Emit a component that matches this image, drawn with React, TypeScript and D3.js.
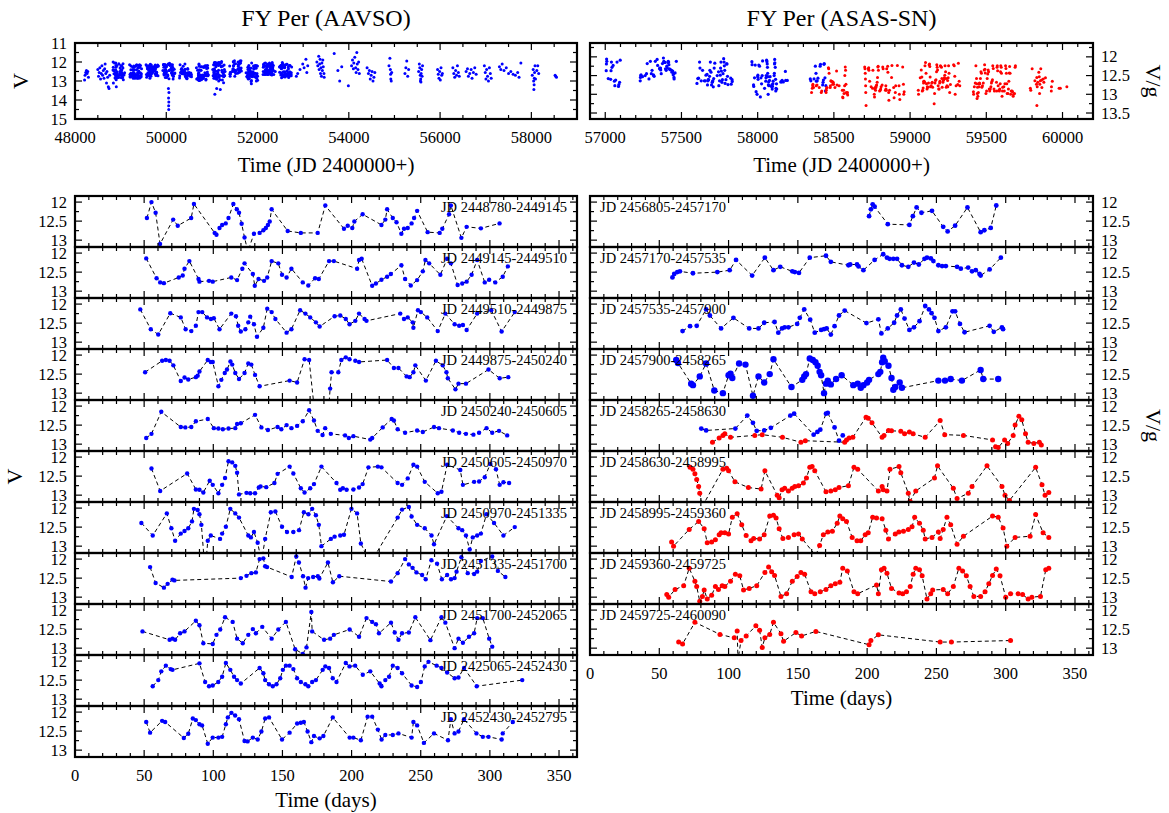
import React from 'react';
import * as d3 from 'd3';

// ---- AAVSO yearly strips: flat [day, mag, day, mag, ...] ----
const aavso1 = [52,12.42, 55.3,12.0, 58.3,12.28, 61.5,13.1, 71,12.46, 74.3,12.62, 84,12.42, 86,12.05, 101,12.81, 102.3,12.86, 104.5,12.68, 106.4,12.6, 109,12.56, 111,12.42, 114.5,12.05, 117,12.19, 118.6,12.28, 120.5,12.57, 122.6,12.93, 125,13.3, 129.4,12.83, 133.5,12.81, 136.2,12.74, 138,12.68, 139.5,12.6, 140.8,12.51, 142.2,12.19, 153.8,12.76, 163.3,12.81, 175.5,12.81, 181,12.09, 194.5,12.7, 197.2,12.62, 200.5,12.68, 202,12.51, 208,12.32, 221.6,12.6, 224.4,12.46, 225.7,12.19, 229.8,12.42, 232.5,12.53, 236,12.83, 237.9,12.7, 240.6,12.68, 243.4,12.56, 245.2,12.42, 247.4,12.23, 255,12.79, 263.7,12.81, 265.6,12.7, 270.5,12.32, 271.8,12.09, 279.4,12.94, 283.2,12.65, 293.5,12.69, 307,12.56];
const aavso2 = [51.5,12.14, 59,12.66, 61.6,12.77, 64.3,12.79, 75,12.64, 77.9,12.59, 79.2,12.41, 82.7,12.21, 89.3,12.68, 90,12.75, 96.9,12.73, 99.6,12.75, 113,12.64, 117.2,12.71, 121,12.41, 122.6,12.27, 128.6,12.55, 130,12.86, 132.7,12.68, 136.7,12.73, 139,12.64, 142.2,12.21, 147,12.27, 149.7,12.57, 153,12.64, 156.5,12.41, 164.7,12.77, 168.7,12.85, 173.6,12.66, 176.3,12.68, 183.7,12.21, 187.2,12.21, 204,12.41, 205.4,12.18, 207.3,12.15, 214.9,12.86, 217.6,12.8, 221.6,12.7, 225.7,12.62, 228.4,12.55, 236,12.32, 238.7,12.68, 242.8,12.85, 247.4,12.71, 251.5,12.48, 253.4,12.18, 256.1,12.27, 264.2,12.57, 269.1,12.15, 271.8,12.27, 276.7,12.84, 280,12.8, 283.2,12.75, 286.8,12.57, 290.8,12.18, 296.3,12.77, 299.5,12.7, 303.9,12.77, 309.3,12.62, 313,12.35];
const aavso3 = [47.2,12.14, 54.8,12.66, 60.2,12.8, 68.9,12.24, 76.5,12.35, 80,12.66, 84.1,12.71, 87.4,12.57, 89.3,12.21, 92,12.21, 95.5,12.35, 98.3,12.39, 100.4,12.37, 104.5,12.66, 113,12.25, 116.4,12.32, 118,12.57, 119.9,12.72, 123.2,12.66, 125.3,12.48, 126.7,12.33, 129.4,12.53, 131.6,12.86, 136.2,12.62, 139,12.12, 142.2,12.21, 144.9,12.39, 153,12.75, 156.5,12.66, 162.8,12.16, 166.6,12.25, 170.1,12.35, 174.2,12.48, 176.9,12.59, 187.7,12.32, 191.8,12.3, 195.8,12.39, 198.5,12.53, 202.7,12.44, 205.4,12.25, 209.4,12.39, 210.8,12.44, 235.2,12.25, 237.9,12.39, 240.6,12.35, 244.2,12.48, 244.7,12.62, 248,12.16, 250.1,12.21, 254.7,12.35, 262.3,12.71, 267.8,12.25, 274.5,12.53, 277.8,12.57, 280.5,12.55, 283.2,12.68, 290.8,12.25, 301,12.16, 308.5,12.72, 318,12.21];
const aavso4 = [50.7,12.45, 63,12.15, 65.7,12.13, 68.4,12.15, 71.1,12.27, 76.5,12.68, 79.2,12.59, 81.9,12.64, 87.4,12.58, 88.7,12.54, 90,12.43, 96,12.13, 98.2,12.18, 99.6,12.18, 103.7,12.82, 105.8,12.65, 108.3,12.47, 109.9,12.38, 112.4,12.17, 113.7,12.25, 115.9,12.47, 118.6,12.63, 122.6,12.47, 125.3,12.22, 127.5,12.25, 130.2,12.52, 133.5,12.82, 155.2,12.67, 160.6,12.72, 166,12.11, 169.3,12.13, 173,13.4, 175,13.9, 177,14.3, 179,14.5, 181,14.1, 183,13.6, 184.5,12.88, 185.5,12.45, 190.4,12.45, 192.6,12.13, 195.8,12.06, 198.5,12.11, 202.7,12.15, 205.4,12.18, 225.7,12.13, 230.6,12.34, 233.9,12.34, 239.8,12.56, 242,12.58, 244.7,12.45, 246.1,12.27, 253.7,12.67, 261,12.15, 265.9,12.27, 268.6,12.45, 269.6,12.61, 275.1,12.9, 277.3,12.75, 282.7,12.75, 299,12.38, 307.1,12.61, 313.3,12.58];
const aavso5 = [51.5,12.84, 55.3,12.73, 62.4,12.15, 76.5,12.55, 79.8,12.56, 84.1,12.55, 87.4,12.4, 96,12.34, 100.4,12.58, 103.7,12.59, 106.9,12.61, 111,12.59, 115.9,12.58, 117.2,12.47, 119.9,12.45, 130.2,12.23, 134.8,12.56, 139.5,12.63, 146.5,12.55, 149.2,12.61, 153,12.5, 156.5,12.58, 160.6,12.52, 164.7,12.4, 169.3,12.11, 172.8,12.38, 175.5,12.65, 179,12.76, 180.9,12.58, 185,12.73, 195.3,12.77, 198,12.84, 201.3,12.79, 213.5,12.88, 214.9,12.84, 222.5,12.56, 229,12.34, 230.6,12.38, 233.3,12.61, 238.7,12.7, 247.4,12.64, 251.5,12.68, 259.6,12.55, 263.2,12.58, 273.2,12.64, 277.8,12.7, 282.7,12.73, 288.1,12.75, 292.2,12.7, 297.6,12.58, 301.7,12.7, 306.6,12.65, 312.5,12.77];
const aavso6 = [55.3,12.3, 61.6,12.89, 81.1,12.43, 87.4,12.85, 90,12.86, 92.8,12.93, 97.4,12.62, 99.6,12.73, 103.7,12.95, 106.4,12.73, 108.5,12.55, 111,12.11, 113.7,12.14, 115.9,12.23, 117.2,12.41, 118.6,12.98, 124,12.94, 126.7,12.95, 130.2,12.95, 132.9,12.8, 134.2,12.77, 138.3,12.79, 144.2,12.68, 146.5,12.44, 155.2,12.25, 157.9,12.43, 163.3,12.82, 166,12.93, 170.1,12.82, 172.8,12.71, 178.2,12.25, 189.1,12.68, 191.8,12.86, 193.7,12.82, 196.4,12.86, 201.3,12.85, 205.4,12.8, 208,12.71, 212.2,12.27, 219,12.25, 221.6,12.27, 233.3,12.68, 236.5,12.73, 240.6,12.56, 244.7,12.2, 247.4,12.25, 252.9,12.65, 262.3,12.95, 265,12.91, 269.1,12.2, 278.6,12.34, 280.5,12.73, 288.6,12.65, 292.2,12.64, 296.3,12.53, 300.3,12.18, 304.4,12.32, 307.1,12.73, 309.8,12.66, 313.9,12.68];
const aavso7 = [48,12.39, 56.2,12.72, 66.4,12.14, 69.7,12.53, 72.4,12.86, 76.5,12.67, 79.2,12.6, 81.9,12.53, 84.6,12.35, 86,12.02, 88.7,12.05, 90,12.16, 91.4,12.44, 94.1,13.7, 96,12.86, 98.2,12.72, 104.9,12.81, 106.4,12.67, 109.1,12.49, 112.3,12.02, 115.9,12.14, 118.6,12.25, 125.3,12.72, 127.2,12.77, 129.4,12.63, 132.1,12.91, 134.8,13.4, 137.5,12.81, 141.6,12.11, 144.9,12.09, 149.7,12.49, 153.3,12.63, 157.9,12.63, 162,12.58, 165.5,12.11, 168.8,12.16, 171.5,12.02, 174.2,12.19, 176.3,12.44, 178.2,13.0, 185,12.81, 187.7,12.75, 191.8,12.72, 194.5,12.7, 199.9,12.02, 204,12.14, 206.7,12.93, 213.5,13.45, 233.3,12.25, 236.5,12.04, 241.4,11.97, 243.4,12.22, 247.4,12.44, 252.9,12.53, 257.8,12.72, 259.6,12.95, 268.9,12.21, 277.3,12.53, 280,12.58, 282.7,12.72, 285.4,13.09, 287.6,12.77, 290.8,12.72, 293.5,12.67, 297.6,12.16, 303,12.39, 309.8,12.72, 318,12.5];
const aavso8 = [54.3,12.21, 58.3,12.63, 64.3,12.75, 67,12.65, 70.5,12.54, 71.9,12.56, 119.9,12.5, 124,12.44, 127.5,12.37, 130.8,12.35, 133.5,12.0, 136.2,11.98, 137.5,12.19, 138.9,12.21, 156.7,12.47, 160,11.93, 161.9,12.09, 164.9,12.45, 166.7,12.75, 168.6,12.5, 172.2,12.47, 175.6,12.45, 176.7,12.51, 182.9,12.09, 186.5,12.61, 191.1,12.45, 228.5,12.59, 233.3,12.37, 238.7,12.0, 241.4,12.14, 244.1,12.23, 246.9,12.35, 251,12.42, 253.6,12.53, 257.7,12.03, 261.8,12.12, 265.3,12.53, 269.1,12.42, 271.9,12.53, 274.5,12.5, 275.9,12.33, 279.4,11.95, 284,12.37, 288.6,12.39, 290.8,12.33, 293.5,12.05, 301.7,11.93, 305.8,12.31, 311.2,12.47];
const aavso9 = [48.8,12.56, 68.4,12.78, 70.5,12.75, 72.4,12.78, 76,12.61, 79.2,12.56, 87.4,12.28, 90,12.4, 92.8,12.87, 99.6,12.89, 102.3,12.65, 105,12.51, 108.5,12.19, 114,12.31, 117.2,12.75, 121.3,12.87, 125.3,12.65, 128.6,12.5, 130.8,12.61, 135.4,12.44, 142.2,12.75, 147,12.51, 152.5,12.31, 159.2,13.03, 164.7,13.15, 167.4,12.98, 170.9,12.05, 171.5,12.56, 180.1,12.78, 184.5,12.75, 187.2,12.65, 198.6,12.51, 205.4,12.7, 210.8,12.21, 214.9,12.31, 217.6,12.37, 219.8,12.61, 228.5,12.33, 231.2,12.59, 233.9,12.78, 236.5,12.61, 241.4,12.59, 246.1,12.19, 257,12.79, 265,12.19, 267.8,12.33, 274.5,13.0, 277.3,12.75, 280.5,12.86, 284.9,12.7, 288.6,12.61, 290.8,12.21, 294.9,12.21, 299.5,12.75, 301.7,12.96];
const aavso10 = [56.2,12.66, 60.2,12.5, 62.4,12.27, 65.7,12.12, 69.2,12.21, 70.5,12.23, 90,12.06, 94.1,12.55, 96.9,12.66, 99.6,12.64, 103.6,12.55, 106.4,12.41, 109.1,12.05, 112.3,12.23, 115,12.41, 117.2,12.5, 119.9,12.59, 133.5,12.18, 136.2,12.32, 137.5,12.5, 140.3,12.61, 143,12.66, 145.7,12.61, 148.4,12.45, 150.3,12.23, 152.5,12.12, 155.2,12.12, 157.9,12.21, 160.6,12.45, 163.3,12.55, 166.6,12.61, 168.7,12.66, 171.5,12.55, 174.2,12.5, 179.1,12.23, 181,12.14, 183.7,12.18, 186.4,12.45, 189.1,12.55, 195.8,12.05, 198.5,12.14, 202.6,12.12, 208.1,12.36, 213.5,12.27, 220.3,12.59, 221.6,12.66, 224.4,12.5, 227.1,12.41, 229.8,12.12, 233.3,12.18, 236.5,12.32, 243.4,12.64, 247.4,12.68, 250.1,12.55, 252.9,12.14, 255.6,12.02, 261.5,12.12, 265,12.18, 269.1,12.3, 274.5,12.45, 277.3,12.43, 281.3,12.18, 290.5,12.66, 323.4,12.5];
const aavso11 = [51.5,12.26, 54.3,12.54, 63,12.23, 65.2,12.26, 78.7,12.68, 81.9,12.57, 85.2,12.17, 87.4,12.21, 90,12.32, 91.9,12.35, 96,12.83, 99.6,12.67, 103.7,12.67, 106.4,12.65, 109.1,12.32, 110.5,12.14, 113.1,12.02, 115.8,12.09, 118.6,12.19, 122.6,12.76, 124.8,12.77, 128.6,12.67, 132.1,12.72, 134.8,12.51, 137.5,12.17, 140.3,12.14, 149.7,12.72, 155.2,12.54, 160.6,12.3, 163.3,12.28, 165.5,12.26, 168.2,12.51, 170.9,12.79, 172.8,12.63, 176.9,12.69, 179.6,12.63, 186.4,12.14, 198.6,12.67, 201.3,12.67, 206.7,12.74, 211.6,12.12, 214.9,12.12, 219,12.46, 221.7,12.72, 224.4,12.6, 229.8,12.6, 233.9,12.56, 243.4,12.67, 244.7,12.26, 247.4,12.35, 252.3,12.81, 259.6,12.56, 269.7,12.74, 271.8,12.19, 274.5,12.56, 277.3,12.51, 281.3,12.19, 290.3,12.56, 294.9,12.65, 299,12.65, 308.5,12.72, 309.3,12.56, 316.6,12.26];

const aavsoStrips = [aavso1, aavso2, aavso3, aavso4, aavso5, aavso6, aavso7, aavso8, aavso9, aavso10, aavso11];
const aavsoStarts = [48780, 49145, 49510, 49875, 50240, 50605, 50970, 51335, 51700, 52065, 52430];
const aavsoLabels = ['JD 2448780-2449145', 'JD 2449145-2449510', 'JD 2449510-2449875', 'JD 2449875-2450240',
  'JD 2450240-2450605', 'JD 2450605-2450970', 'JD 2450970-2451335', 'JD 2451335-2451700',
  'JD 2451700-2452065', 'JD 2425065-2452430', 'JD 2452430-2452795'];

// AAVSO seasons outside the strips (JD 2400000+, mag)
const aavsoOther = [48210,12.95, 48220,12.7, 48235,12.55, 48250,12.45, 48265,12.6, 48280,12.5, 48295,12.8,
  48500,12.4, 48515,12.75, 48530,12.55, 48545,12.3, 48560,12.9, 48575,12.6, 48590,12.2, 48605,12.7, 48620,12.45, 48635,12.85, 48650,12.35, 48660,12.1, 48675,12.6, 48690,13.1, 48700,12.5, 48715,12.8, 48730,13.3, 48745,13.4, 48760,12.7,
  52850,12.75, 52880,12.6, 52930,12.4, 52990,12.1, 53020,12.3, 53060,11.85, 53080,12.55, 53100,12.2,
  53300,12.0, 53320,12.2, 53340,11.7, 53350,12.4, 53360,12.1, 53370,11.85, 53380,12.6, 53390,12.3, 53400,12.75, 53410,12.05, 53420,12.45, 53430,11.9, 53440,12.25, 53455,12.6, 53460,12.8,
  53680,11.55, 53760,12.45, 53800,13.0, 53845,12.25,
  53990,13.25, 54060,12.2, 54080,11.9, 54100,12.35, 54110,12.05, 54130,11.75, 54150,12.3, 54160,12.55, 54175,11.5, 54185,12.1, 54200,12.4, 54215,12.0, 54230,12.6,
  54400,12.3, 54430,12.6, 54450,12.45, 54470,12.9, 54490,12.7, 54510,12.5, 54530,13.0, 54550,12.8, 54570,12.55,
  54880,12.2, 54900,11.8, 54910,12.4, 54915,12.65, 54920,12.9, 54930,13.0, 54940,12.55,
  55230,12.6, 55250,12.3, 55270,11.95, 55290,12.75, 55310,12.4,
  55530,12.5, 55545,12.1, 55555,12.3, 55565,12.7, 55570,13.0, 55575,12.9, 55580,13.05, 55585,12.6, 55595,12.4, 55605,12.75, 55615,12.2,
  55945,12.4, 55960,12.65, 55975,12.85, 55990,12.5, 56005,12.95, 56020,12.3, 56035,12.7, 56050,12.6,
  56280,12.3, 56300,12.6, 56320,12.8, 56340,12.45, 56360,12.7, 56380,12.2, 56400,12.55, 56420,12.75,
  56570,12.5, 56600,12.35, 56620,12.75, 56650,12.6, 56680,12.4, 56700,12.85, 56730,12.55, 56760,12.3, 56790,12.65,
  56970,12.2, 56990,12.55, 57005,12.9, 57020,12.4, 57040,12.75, 57060,13.0, 57080,12.3, 57100,12.6, 57120,12.85,
  57300,12.25, 57330,12.4, 57360,12.1, 57400,12.45, 57450,12.3, 57500,12.6, 57550,12.5, 57600,12.65, 57650,12.7, 57700,12.55, 57730,12.8, 57770,12.05,
  58020,12.7, 58040,12.4, 58050,13.0, 58055,13.45, 58060,13.2, 58065,12.85, 58070,12.55, 58080,12.2, 58090,12.9, 58120,12.45, 58140,12.2, 58160,12.6,
  58520,12.7, 58535,12.75, 58550,12.8];

// ---- ASAS-SN yearly strips (V blue, g red) ----
const asasV1 = [201.4,12.37, 202.7,12.19, 204,12.06, 205.4,12.12, 214.9,12.58, 230.5,12.6, 233,12.37, 235.7,12.14, 239.2,12.28, 246.8,12.23, 254.9,12.65, 258.1,12.77, 263.5,12.62, 272.4,12.14, 281.9,12.79, 284.6,12.74, 289.2,12.68, 293.2,12.09];
const asasV2 = [59.5,12.64, 60.8,12.55, 63,12.5, 64.9,12.48, 74.3,12.53, 91.9,12.5, 100.8,12.45, 105.4,12.18, 117,12.59, 126.2,12.12, 132.4,12.45, 137.3,12.36, 146,12.48, 147.8,12.5, 150.8,12.52, 158.6,12.12, 170.3,12.07, 173.8,12.23, 186.5,12.32, 187.8,12.3, 192.7,12.3, 193.8,12.35, 197.3,12.45, 205.4,12.18, 211.6,12.03, 214.3,12.12, 216.2,12.15, 218.9,12.15, 221.6,12.15, 225.1,12.32, 229.7,12.36, 233.8,12.25, 237.3,12.3, 241.4,12.15, 243.2,12.12, 246,12.14, 247.8,12.21, 251.4,12.32, 254.1,12.34, 256.8,12.34, 264.9,12.36, 267.6,12.41, 272.9,12.38, 275.7,12.48, 278.4,12.45, 281.1,12.55, 281.9,12.59, 288.4,12.43, 296.5,12.12];
const asasV3 = [66.8,12.71, 72.2,12.58, 77,12.57, 83.8,12.14, 86.5,12.3, 94.6,12.64, 103.5,12.36, 114.9,12.64, 121.6,12.64, 125.7,12.49, 133.2,12.47, 135.9,12.75, 138.6,12.64, 140.5,12.61, 143.2,12.61, 149.5,12.52, 151.4,12.36, 154.6,12.14, 158.9,12.41, 162.2,12.75, 166.8,12.68, 168.9,12.66, 170.8,12.64, 173.8,12.8, 176.5,12.58, 179.7,12.3, 183.8,12.17, 199.5,12.5, 208.1,12.4, 210.3,12.77, 214.9,12.64, 219.5,12.49, 221.6,12.3, 224.3,12.14, 227,12.38, 230.5,12.68, 233.8,12.61, 237.8,12.45, 241.9,12.05, 244.6,12.14, 246.5,12.24, 248.6,12.36, 251.4,12.71, 256.8,12.61, 261.6,12.19, 263.5,12.19, 267,12.52, 270.3,12.74, 288.4,12.57, 291.4,12.73, 297.3,12.61, 298.1,12.66];
const asasV4 = [62.2,12.13, 63.5,12.21, 73,12.75, 74.3,12.79, 79.2,12.56, 83.8,12.22, 89.7,12.93, 95.9,13.0, 100,12.53, 101.4,12.49, 102.7,12.6, 107.6,12.22, 112.2,12.25, 117.6,13.07, 121.6,12.56, 125.7,12.72, 129.7,12.5, 132.4,12.11, 145.4,12.84, 153.2,12.65, 154.6,12.56, 155.9,12.5, 158.6,12.09, 160.8,12.13, 162.7,12.19, 164.3,12.28, 165.7,12.44, 166.8,12.53, 168.9,13.0, 170.3,12.75, 171.6,12.67, 173.8,12.77, 177.6,12.63, 181.6,12.53, 190,12.79, 193.2,12.75, 195.4,12.86, 197.3,12.79, 200,12.72, 201.4,12.65, 208.1,12.5, 209.5,12.44, 210.8,12.19, 211.6,12.07, 212.7,12.16, 215.4,12.28, 217.6,12.6, 218.9,12.91, 220.3,12.84, 223.5,12.72, 225.1,12.86, 251.4,12.67, 256.2,12.67, 260.3,12.63, 268.4,12.67, 281.9,12.39, 283.8,12.63, 294.6,12.63];
const asasV5 = [80.3,12.59, 83.8,12.64, 104.9,12.59, 113.5,12.25, 117.6,12.44, 120.3,12.65, 125.7,12.64, 130.5,12.57, 144.6,12.25, 147.3,12.2, 161.4,12.75, 164.1,12.68, 166.2,12.62, 170.3,12.2, 171.6,12.18, 176.5,12.56, 179.7,12.91, 182.4,12.77];
const asasG5 = [88.4,12.95, 93.2,12.84, 95.9,12.77, 97.3,12.73, 101.4,12.82, 118.9,12.77, 124.3,12.75, 138.9,12.82, 152.2,12.95, 155.4,12.91, 183.8,12.95, 185.1,12.89, 187,12.84, 189.7,12.82, 199.2,12.29, 200.8,12.32, 203.5,12.44, 210.8,12.82, 212.2,12.77, 215.4,12.64, 217.6,12.65, 224.3,12.66, 227,12.73, 230.5,12.68, 233.2,12.73, 241.9,12.82, 252.7,12.38, 256,12.75, 269.5,12.77, 290.5,12.89, 292.7,13.07, 294.6,13.09, 299.2,12.89, 301.4,12.98, 305.4,12.77, 306.8,12.5, 309.5,12.27, 311.6,12.36, 314.3,12.73, 316.2,12.95, 320.3,12.98, 324.3,12.95, 325.7,13.02];
const asasG6 = [72.2,12.27, 74.3,12.32, 75.7,12.44, 77,12.59, 78.4,12.77, 79.2,12.95, 81,13.3, 95.9,12.32, 98.6,12.29, 100,12.36, 104.6,12.65, 114.3,12.8, 123.5,12.84, 126.2,12.36, 135.1,13.0, 136.5,13.07, 138.6,12.86, 140.5,12.82, 143.2,12.89, 145.9,12.82, 147.8,12.77, 150.5,12.75, 154,12.68, 156.2,12.55, 158.6,12.27, 160.3,12.25, 162.2,12.36, 170.3,12.91, 173.8,12.89, 177,12.86, 179.7,12.8, 186.5,12.75, 190.5,12.27, 193.2,12.32, 208.1,12.89, 210.8,12.77, 211.6,12.86, 214.3,12.89, 216.5,12.32, 223,12.25, 224.3,12.41, 229.7,12.95, 231,13.16, 235.1,12.89, 248.6,12.55, 250.8,12.23, 262.2,12.82, 264.9,13.09, 273,12.95, 275.7,12.77, 286.5,12.23, 297.3,12.77, 299.5,13.0, 302.7,13.14, 321.6,12.27, 326.2,12.73, 328.4,13.0, 331.1,12.93];
const asasG7 = [58.9,12.89, 60.3,13.0, 71.6,12.56, 78.4,12.35, 82.4,12.54, 84.6,12.91, 87.8,12.89, 90.5,12.83, 93.2,12.7, 94.6,12.65, 97.3,12.65, 100,12.68, 102.7,12.24, 106.2,12.15, 109.5,12.44, 112.7,12.72, 116.2,12.86, 118.1,12.8, 122.4,12.81, 125.7,12.7, 129.7,12.21, 132.4,12.19, 134.3,12.26, 136.5,12.54, 139.2,12.8, 143.2,12.77, 147.3,12.7, 150.5,12.68, 153.2,12.81, 162.9,13.25, 165.7,12.98, 168.4,12.7, 171.6,12.63, 174.9,12.61, 178.4,12.4, 180.3,12.21, 182.4,12.28, 185.1,12.35, 189.2,12.77, 192.7,12.86, 195.4,12.86, 198.6,12.7, 200.8,12.65, 204,12.24, 206.8,12.26, 210.8,12.28, 213.5,12.58, 215.4,12.81, 220.3,12.68, 222.9,12.63, 226.2,12.61, 229.7,12.56, 232.4,12.49, 234.3,12.24, 237.8,12.4, 240.5,12.58, 241.9,12.81, 246.8,12.77, 251.4,12.63, 252.7,12.8, 254.9,12.56, 257.6,12.24, 260.3,12.44, 264.9,12.95, 269.5,12.74, 290.5,12.21, 294.6,12.24, 298.1,12.52, 300.8,13.0, 306.8,12.77, 317.6,12.74, 321.6,12.17, 327,12.65, 331.1,12.77];
const asasG8 = [55.4,12.93, 56.8,13.0, 61.4,12.8, 67.6,12.7, 71.6,12.24, 75.7,12.58, 77,12.72, 79.2,13.11, 81.1,12.98, 82.4,12.81, 84.6,13.05, 87.8,12.95, 90.5,12.72, 92.7,12.8, 95.4,12.7, 97.3,12.72, 101.4,12.58, 104.9,12.4, 108.1,12.44, 110.8,12.81, 114.9,12.77, 120.3,12.7, 126.2,12.35, 128.9,12.21, 131.1,12.33, 133.2,12.43, 137.8,12.98, 141.9,12.91, 146,12.58, 149.5,12.46, 152.2,12.35, 154.9,12.4, 159.5,12.86, 162.2,12.91, 166.2,12.86, 170.3,12.8, 173.8,12.7, 177,12.65, 180.3,12.61, 182.4,12.24, 185.7,12.31, 190.5,12.86, 193.2,12.91, 206.8,12.68, 208.1,12.91, 210.3,12.28, 212.2,12.24, 214.3,12.37, 217.6,12.77, 223,12.89, 225.7,12.91, 228.4,12.86, 231.1,12.72, 233.2,12.4, 235.1,12.24, 237.8,12.28, 239.7,12.44, 243.2,13.05, 245.9,12.91, 247.3,12.81, 254.9,12.8, 258.1,12.91, 262.2,12.72, 266.2,12.24, 268.9,12.31, 271.6,12.44, 274.3,12.72, 277,12.98, 281.9,12.98, 285.1,12.86, 287.8,12.65, 290.5,12.43, 293.2,12.26, 295.9,12.44, 300,13.0, 303.5,12.91, 308.9,12.91, 312.2,12.93, 316.2,13.05, 318.9,13.0, 325.1,12.98, 328.9,12.28, 331.1,12.24];
const asasG9 = [64,12.84, 66.8,12.89, 75.7,12.32, 93.8,12.64, 104.1,12.73, 106.2,12.55, 106.8,13.3, 109,12.8, 112.7,12.68, 119.7,12.41, 122.4,12.53, 124.3,12.98, 126.2,12.73, 129.7,12.64, 132.4,12.32, 137.8,12.62, 139.7,12.82, 148.6,12.59, 152.7,12.68, 163,12.56, 201.4,12.91, 202.7,12.8, 208.1,12.65, 252.7,12.84, 260.8,12.84, 303.5,12.8];

const asasStarts = [56805, 57170, 57535, 57900, 58265, 58630, 58995, 59360, 59725];
const asasLabels = asasStarts.map(s => `JD 24${s}-24${s + 365}`);
const asasVStrips = [asasV1, asasV2, asasV3, asasV4, asasV5, [], [], [], []];
const asasGStrips = [[], [], [], [], asasG5, asasG6, asasG7, asasG8, asasG9];

const BLUE = '#0000ff';
const RED = '#ff0000';
const FONT = '"Liberation Serif", "Times New Roman", serif';

type Pt = [number, number];
const pairs = (a: number[]): Pt[] => {
  const out: Pt[] = [];
  for (let i = 0; i < a.length; i += 2) out.push([a[i], a[i + 1]]);
  return out;
};

const stepValues = (domain: number[], step: number) => {
  const lo = Math.min(domain[0], domain[1]);
  const hi = Math.max(domain[0], domain[1]);
  const out: number[] = [];
  for (let k = Math.ceil(lo / step - 1e-9); k * step <= hi + 1e-9; k++) out.push(+(k * step).toFixed(6));
  return out;
};

type Lin = d3.ScaleLinear<number, number>;

// frame with inward ticks on all four sides
function Frame({ xs, ys, xMajor, xMinor, yMajor, yMinor }: {
  xs: Lin; ys: Lin; xMajor: number; xMinor: number; yMajor: number; yMinor: number;
}) {
  const [x0, x1] = xs.range();
  const [y0, y1] = ys.range();
  const big = 7, small = 4;
  const xt = stepValues(xs.domain(), xMinor);
  const yt = stepValues(ys.domain(), yMinor);
  const isMajor = (v: number, s: number) => Math.abs(v / s - Math.round(v / s)) < 1e-6;
  return (
    <g stroke="#000" fill="none">
      {xt.map(v => {
        const l = isMajor(v, xMajor) ? big : small;
        const x = xs(v);
        return <g key={'x' + v}>
          <line x1={x} x2={x} y1={y1} y2={y1 - l} strokeWidth={1.2} />
          <line x1={x} x2={x} y1={y0} y2={y0 + l} strokeWidth={1.2} />
        </g>;
      })}
      {yt.map(v => {
        const l = isMajor(v, yMajor) ? big : small;
        const y = ys(v);
        return <g key={'y' + v}>
          <line x1={x0} x2={x0 + l} y1={y} y2={y} strokeWidth={1.2} />
          <line x1={x1} x2={x1 - l} y1={y} y2={y} strokeWidth={1.2} />
        </g>;
      })}
      <rect x={x0} y={y0} width={x1 - x0} height={y1 - y0} strokeWidth={2.2} />
    </g>
  );
}

function Series({ pts, xs, ys, color, r, dashed, clip }: {
  pts: Pt[]; xs: Lin; ys: Lin; color: string; r: number; dashed: boolean; clip: string;
}) {
  if (!pts.length) return null;
  const line = d3.line<Pt>().x(d => xs(d[0])).y(d => ys(d[1]));
  return (
    <g clipPath={`url(#${clip})`}>
      {dashed && <path d={line(pts) || ''} fill="none" stroke="#000" strokeWidth={1} strokeDasharray="4,3" />}
      {pts.map((d, i) => <circle key={i} cx={xs(d[0])} cy={ys(d[1])} r={r} fill={color} />)}
    </g>
  );
}

const LEFT: [number, number] = [75, 577];
const RIGHT: [number, number] = [590, 1093];
const TOP: [number, number] = [43, 119];
const STRIP_TOP = 196;
const STRIP_H = 51;
const DAYS: [number, number] = [0, 363];
const STRIP_MAG: [number, number] = [11.84, 13.18];

export default function App() {
  const xTopL = d3.scaleLinear().domain([48000, 59000]).range(LEFT);
  const yTopL = d3.scaleLinear().domain([11, 15]).range(TOP);
  const xTopR = d3.scaleLinear().domain([56900, 60200]).range(RIGHT);
  const yTopR = d3.scaleLinear().domain([11.63, 13.66]).range(TOP);
  const xDayL = d3.scaleLinear().domain(DAYS).range(LEFT);
  const xDayR = d3.scaleLinear().domain(DAYS).range(RIGHT);

  const topLPts: Pt[] = [
    ...pairs(aavsoOther),
    ...aavsoStrips.flatMap((a, i) => pairs(a).map(([t, m]) => [aavsoStarts[i] + t, m] as Pt)),
  ];
  const topRV: Pt[] = asasVStrips.flatMap((a, i) => pairs(a).map(([t, m]) => [asasStarts[i] + t, m] as Pt));
  const topRG: Pt[] = asasGStrips.flatMap((a, i) => pairs(a).map(([t, m]) => [asasStarts[i] + t, m] as Pt));

  const stripY = (i: number) => d3.scaleLinear().domain(STRIP_MAG).range([STRIP_TOP + i * STRIP_H, STRIP_TOP + (i + 1) * STRIP_H]);
  const stripTicks = [12, 12.5, 13];
  const dayTicks = stepValues(DAYS, 50);

  const lastL = STRIP_TOP + aavsoStrips.length * STRIP_H;
  const lastR = STRIP_TOP + asasStarts.length * STRIP_H;
  const midL = (LEFT[0] + LEFT[1]) / 2;
  const midR = (RIGHT[0] + RIGHT[1]) / 2;

  return (
    <svg width={1169} height={813} style={{ position: 'absolute', left: 0, top: 0, background: '#fff' }}
      fontFamily={FONT}>
      <defs>
        <clipPath id="c-tl"><rect x={LEFT[0]} y={TOP[0]} width={LEFT[1] - LEFT[0]} height={TOP[1] - TOP[0]} /></clipPath>
        <clipPath id="c-tr"><rect x={RIGHT[0]} y={TOP[0]} width={RIGHT[1] - RIGHT[0]} height={TOP[1] - TOP[0]} /></clipPath>
        {aavsoStrips.map((_, i) => (
          <clipPath key={i} id={`c-l${i}`}><rect x={LEFT[0]} y={STRIP_TOP + i * STRIP_H} width={LEFT[1] - LEFT[0]} height={STRIP_H} /></clipPath>
        ))}
        {asasStarts.map((_, i) => (
          <clipPath key={i} id={`c-r${i}`}><rect x={RIGHT[0]} y={STRIP_TOP + i * STRIP_H} width={RIGHT[1] - RIGHT[0]} height={STRIP_H} /></clipPath>
        ))}
      </defs>

      {/* titles */}
      <text x={midL} y={26} textAnchor="middle" fontSize={24}>FY Per (AAVSO)</text>
      <text x={midR} y={26} textAnchor="middle" fontSize={24}>FY Per (ASAS-SN)</text>

      {/* top left: AAVSO overview */}
      <Series pts={topLPts} xs={xTopL} ys={yTopL} color={BLUE} r={1.5} dashed={false} clip="c-tl" />
      <Frame xs={xTopL} ys={yTopL} xMajor={2000} xMinor={500} yMajor={1} yMinor={0.5} />
      {stepValues([11, 15], 1).map(v => (
        <text key={v} x={LEFT[0] - 8} y={yTopL(v)} textAnchor="end" dominantBaseline="central" fontSize={16.5}>{v}</text>
      ))}
      {stepValues([48000, 58000], 2000).map(v => (
        <text key={v} x={xTopL(v)} y={143} textAnchor="middle" fontSize={16.5}>{v}</text>
      ))}
      <text x={midL} y={172} textAnchor="middle" fontSize={21}>Time (JD 2400000+)</text>
      <text transform={`translate(28,${(TOP[0] + TOP[1]) / 2}) rotate(-90)`} textAnchor="middle" fontSize={22}>V</text>

      {/* top right: ASAS-SN overview */}
      <Series pts={topRV} xs={xTopR} ys={yTopR} color={BLUE} r={1.6} dashed={false} clip="c-tr" />
      <Series pts={topRG} xs={xTopR} ys={yTopR} color={RED} r={1.5} dashed={false} clip="c-tr" />
      <Frame xs={xTopR} ys={yTopR} xMajor={500} xMinor={100} yMajor={0.5} yMinor={0.25} />
      {[12, 12.5, 13, 13.5].map(v => (
        <text key={v} x={RIGHT[1] + 8} y={yTopR(v)} textAnchor="start" dominantBaseline="central" fontSize={16.5}>{v}</text>
      ))}
      {stepValues([57000, 60000], 500).map(v => (
        <text key={v} x={xTopR(v)} y={143} textAnchor="middle" fontSize={16.5}>{v}</text>
      ))}
      <text x={midR} y={172} textAnchor="middle" fontSize={21}>Time (JD 2400000+)</text>
      <text transform={`translate(1146,${(TOP[0] + TOP[1]) / 2}) rotate(90)`} textAnchor="middle" fontSize={22}>V/g</text>

      {/* left column strips */}
      {aavsoStrips.map((a, i) => {
        const ys = stripY(i);
        return (
          <g key={i}>
            <Series pts={pairs(a)} xs={xDayL} ys={ys} color={BLUE} r={2.2} dashed clip={`c-l${i}`} />
            <Frame xs={xDayL} ys={ys} xMajor={50} xMinor={10} yMajor={0.5} yMinor={0.25} />
            <text x={LEFT[1] - 10} y={ys.range()[0] + 16} textAnchor="end" fontSize={14.5}>{aavsoLabels[i]}</text>
            {stripTicks.map(v => (
              <text key={v} x={LEFT[0] - 8} y={ys(v)} textAnchor="end" dominantBaseline="central" fontSize={16.5}>{v}</text>
            ))}
          </g>
        );
      })}
      {dayTicks.map(v => (
        <text key={v} x={xDayL(v)} y={lastL + 24} textAnchor="middle" fontSize={16.5}>{v}</text>
      ))}
      <text x={midL} y={lastL + 50} textAnchor="middle" fontSize={21}>Time (days)</text>
      <text transform={`translate(22,${(STRIP_TOP + lastL) / 2}) rotate(-90)`} textAnchor="middle" fontSize={22}>V</text>

      {/* right column strips */}
      {asasStarts.map((_, i) => {
        const ys = stripY(i);
        return (
          <g key={i}>
            <Series pts={pairs(asasVStrips[i])} xs={xDayR} ys={ys} color={BLUE} r={i === 3 ? 3.2 : 2.4} dashed clip={`c-r${i}`} />
            <Series pts={pairs(asasGStrips[i])} xs={xDayR} ys={ys} color={RED} r={2.5} dashed clip={`c-r${i}`} />
            <Frame xs={xDayR} ys={ys} xMajor={50} xMinor={10} yMajor={0.5} yMinor={0.25} />
            <text x={RIGHT[0] + 10} y={ys.range()[0] + 16} textAnchor="start" fontSize={14.5}>{asasLabels[i]}</text>
            {stripTicks.map(v => (
              <text key={v} x={RIGHT[1] + 8} y={ys(v)} textAnchor="start" dominantBaseline="central" fontSize={16.5}>{v}</text>
            ))}
          </g>
        );
      })}
      {dayTicks.map(v => (
        <text key={v} x={xDayR(v)} y={lastR + 24} textAnchor="middle" fontSize={16.5}>{v}</text>
      ))}
      <text x={midR} y={lastR + 50} textAnchor="middle" fontSize={21}>Time (days)</text>
      <text transform={`translate(1146,${(STRIP_TOP + lastR) / 2}) rotate(90)`} textAnchor="middle" fontSize={22}>V/g</text>
    </svg>
  );
}
